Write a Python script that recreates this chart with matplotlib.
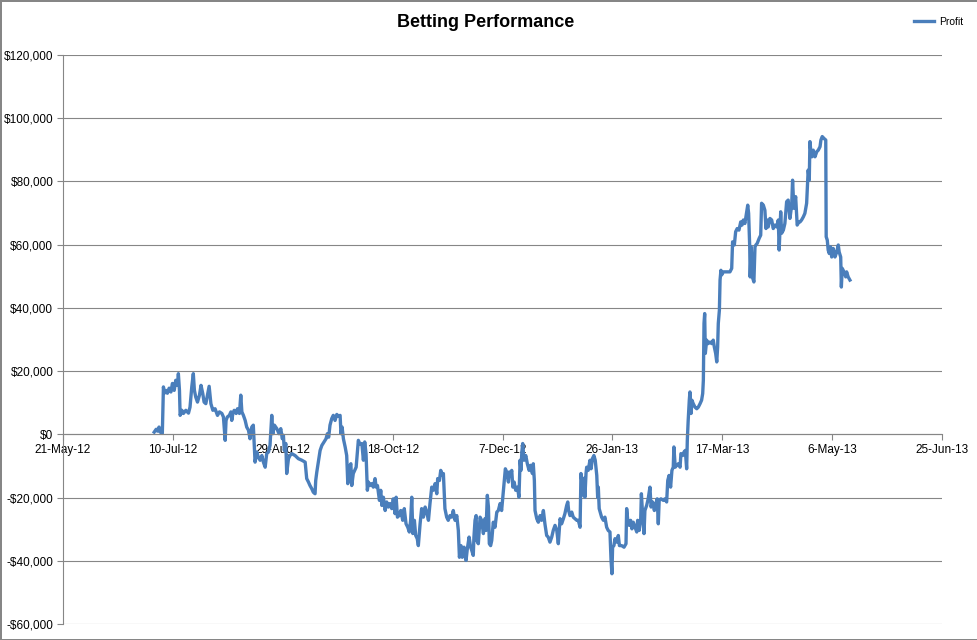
"""
Betting performance: cumulative profit over time (Excel-style line chart).
"""
import datetime as dt

import matplotlib
matplotlib.use("Agg")
import matplotlib.dates as mdates
import matplotlib.pyplot as plt
from matplotlib.ticker import FuncFormatter, MultipleLocator

# ---------------------------------------------------------------------------
# DATA
# ---------------------------------------------------------------------------
START_DATE = dt.datetime(2012, 7, 1)

# days elapsed since START_DATE
days = [
    0.5, 1.4, 2.0, 2.7, 3.2, 3.8, 4.2, 4.7, 5.1, 5.8, 6.5, 7.3, 8.1, 8.8, 9.6,
    10.3, 11.1, 11.5, 12.0, 12.3, 13.1, 13.8, 14.9, 16.1, 16.8, 17.6, 18.3,
    18.8, 19.4, 20.2, 21.1, 21.8, 22.6, 23.2, 24.0, 24.9, 25.5, 26.3, 27.2,
    28.2, 29.3, 30.2, 31.3, 32.0, 32.8, 33.2, 33.8, 34.7, 35.4, 35.8, 36.3,
    36.9, 37.8, 38.4, 39.3, 39.9, 40.4, 41.1, 41.9, 42.6, 43.4, 44.1, 44.9,
    45.6, 46.4, 47.2, 47.9, 48.7, 49.5, 50.2, 51.0, 51.7, 52.5, 53.2, 54.0,
    54.5, 55.2, 56.3, 57.3, 58.1, 58.8, 59.3, 59.7, 60.4, 60.8, 61.6, 62.3,
    63.1, 64.6, 66.1, 67.7, 69.2, 69.9, 70.7, 71.4, 72.2, 72.9, 73.7, 74.0,
    74.5, 75.2, 76.0, 76.8, 77.8, 78.7, 79.3, 79.9, 80.5, 81.3, 82.0, 82.8,
    83.6, 84.3, 85.1, 85.5, 86.0, 86.6, 87.4, 88.1, 88.6, 89.2, 90.0, 90.4,
    91.1, 92.4, 93.4, 94.2, 95.0, 95.7, 96.3, 96.9, 97.5, 98.0, 98.7, 99.5,
    100.2, 101.0, 101.5, 102.1, 103.0, 103.6, 104.1, 104.8, 105.6, 106.3,
    107.1, 107.8, 108.6, 109.3, 110.1, 110.6, 111.2, 111.9, 112.7, 113.6,
    114.3, 115.1, 115.9, 116.6, 117.2, 117.7, 118.2, 118.9, 119.5, 120.2,
    120.7, 121.5, 122.2, 123.0, 123.8, 124.5, 125.3, 126.0, 126.8, 127.5,
    128.3, 129.1, 129.5, 130.3, 130.9, 131.6, 132.1, 132.8, 133.6, 134.3,
    135.1, 135.9, 136.6, 137.4, 138.2, 138.9, 139.4, 140.1, 140.7, 141.5,
    142.4, 143.0, 143.8, 144.5, 145.0, 145.7, 146.0, 146.5, 147.0, 147.3,
    148.0, 148.8, 149.5, 150.3, 151.0, 151.5, 152.1, 152.6, 153.0, 153.6,
    154.1, 154.8, 155.6, 156.4, 157.1, 157.9, 158.6, 159.4, 159.8, 160.3,
    160.9, 161.7, 162.1, 162.7, 163.2, 163.7, 164.3, 165.0, 165.8, 166.5,
    167.0, 167.4, 167.8, 168.2, 168.8, 169.6, 170.3, 171.1, 171.8, 172.6,
    173.0, 173.5, 173.8, 174.6, 175.3, 176.1, 176.8, 177.6, 178.3, 179.1,
    179.8, 180.6, 181.4, 182.1, 182.9, 183.7, 184.4, 185.2, 185.9, 186.7,
    187.4, 188.2, 188.7, 189.1, 189.7, 190.5, 191.2, 192.0, 192.8, 193.5,
    194.3, 194.7, 195.8, 196.1, 196.5, 197.0, 197.3, 198.0, 198.8, 199.3,
    199.9, 200.6, 201.2, 201.9, 202.3, 202.6, 203.0, 204.1, 204.9, 205.6,
    206.4, 207.1, 207.9, 208.4, 208.8, 209.1, 209.7, 210.2, 211.0, 211.7,
    212.2, 213.2, 214.3, 215.2, 215.5, 216.0, 216.7, 217.3, 217.9, 218.5,
    219.3, 220.1, 220.5, 221.2, 221.9, 222.2, 222.6, 223.4, 223.8, 224.6,
    225.3, 226.1, 226.6, 227.3, 228.1, 228.8, 229.4, 229.9, 230.3, 231.1,
    232.2, 232.9, 233.7, 234.2, 234.8, 235.5, 236.1, 236.7, 237.0, 237.6,
    238.3, 239.0, 239.8, 240.2, 241.0, 241.6, 242.2, 242.8, 243.1, 243.5,
    244.0, 244.3, 244.8, 245.2, 245.8, 246.6, 247.4, 248.1, 248.9, 249.6,
    250.1, 250.4, 250.7, 251.0, 251.3, 251.9, 252.6, 253.4, 254.2, 254.9,
    255.4, 256.0, 256.5, 256.9, 257.2, 257.7, 258.0, 258.4, 258.7, 259.5,
    261.0, 262.5, 263.3, 263.7, 264.5, 265.1, 265.8, 266.6, 267.4, 268.0,
    268.6, 269.3, 270.1, 270.6, 271.0, 271.5, 271.7, 272.2, 272.7, 273.4,
    273.9, 274.3, 274.9, 275.8, 276.5, 276.9, 277.7, 278.4, 278.9, 279.5,
    279.9, 280.7, 281.5, 282.2, 283.0, 283.8, 284.5, 284.9, 285.6, 286.0,
    286.8, 287.5, 288.3, 289.0, 289.8, 290.6, 291.0, 291.6, 292.4, 293.1,
    293.9, 294.4, 295.1, 295.9, 296.6, 297.4, 297.7, 298.1, 298.6, 298.9,
    299.4, 299.8, 300.4, 301.2, 302.0, 302.7, 303.5, 303.9, 304.5, 305.3,
    306.1, 306.3, 306.8, 307.2, 307.7, 308.3, 308.8, 309.5, 310.3, 311.1,
    311.8, 312.2, 312.9, 313.2, 313.6, 314.4, 315.2, 315.6, 316.3, 317.1,
]

# cumulative profit, thousands of dollars
profit_k = [
    0.7, 1.6, 1.0, 2.3, 0.7, 1.3, 0.3, 15.0, 13.0, 13.9, 13.0, 14.6, 13.4, 16.1, 13.9,
    17.1, 15.5, 19.2, 13.9, 6.0, 7.6, 6.6, 7.6, 6.7, 8.6, 15.0, 19.2,
    13.9, 11.8, 10.2, 12.4, 15.5, 12.9, 10.2, 9.7, 12.9, 15.2, 9.7, 7.6,
    8.1, 6.0, 7.1, 6.6, 5.5, -1.9, 4.4, 5.5, 6.0, 7.1, 4.4, 6.6,
    7.6, 6.6, 8.1, 6.6, 12.4, 7.1, 6.0, 4.4, 2.3, 1.3, -1.4, 2.3,
    2.9, -8.8, -5.6, -7.2, -8.2, -6.7, -8.8, -10.4, -6.1, -5.6, -3.5, 6.0,
    0.2, 2.9, 1.8, 0.2, 1.8, -1.4, -0.3, -5.1, -2.9, -12.4, -7.7, -6.7,
    -6.1, -6.7, -7.7, -8.2, -8.8, -14.0, -15.1, -16.2, -17.2, -18.3, -18.8, -14.6,
    -11.9, -8.8, -5.1, -3.5, -2.4, -1.4, 0.2, -0.9, 2.9, 5.0, 6.0, 4.4,
    6.3, 5.7, 6.0, 0.2, 2.3, -1.4, -4.0, -6.7, -15.6, -10.4, -9.3, -16.2,
    -12.4, -10.4, -1.9, -3.2, -2.9, -8.2, -2.4, -6.1, -17.7, -15.1, -16.2, -15.6,
    -16.7, -14.0, -16.7, -16.2, -20.9, -17.7, -22.5, -19.9, -24.1, -21.4,
    -23.0, -21.9, -23.5, -20.4, -25.1, -19.9, -26.2, -25.7, -24.1, -27.2,
    -23.5, -28.3, -29.4, -30.9, -27.2, -19.9, -31.4, -27.2, -32.0, -33.0,
    -35.2, -28.3, -23.5, -26.2, -23.0, -24.6, -27.2, -21.9, -16.7, -17.7,
    -15.6, -18.8, -14.0, -14.6, -11.4, -13.0, -12.4, -23.5, -26.2, -27.2,
    -25.7, -26.2, -24.1, -27.2, -25.7, -30.4, -38.9, -35.2, -38.9, -35.7,
    -39.9, -36.2, -32.5, -35.7, -36.7, -38.3, -32.5, -27.2, -25.7, -33.6,
    -34.6, -26.2, -27.2, -31.4, -26.7, -30.4, -19.3, -23.0, -34.6, -35.2,
    -33.6, -27.8, -29.4, -24.6, -24.1, -21.9, -24.1, -17.7, -14.6, -10.9,
    -11.9, -15.1, -11.9, -13.0, -11.4, -16.7, -15.1, -17.7, -16.7, -19.9,
    -8.2, -11.4, -5.6, -2.9, -8.2, -6.7, -9.3, -11.4, -9.8, -12.4,
    -9.3, -14.6, -24.1, -26.7, -27.8, -25.7, -27.2, -24.1, -28.3, -32.0,
    -32.5, -34.1, -32.5, -30.4, -28.8, -30.4, -34.6, -26.7, -28.3, -26.7,
    -25.1, -22.5, -21.4, -24.1, -25.7, -24.6, -26.2, -26.7, -27.2, -27.2,
    -29.4, -12.4, -19.3, -13.9, -19.9, -12.4, -10.4, -11.4, -8.2, -10.9,
    -7.7, -6.7, -8.2, -13.0, -19.9, -16.7, -23.5, -26.2, -27.2, -26.2,
    -29.4, -30.4, -30.9, -39.9, -44.1, -35.7, -35.2, -33.0, -34.1, -32.0,
    -35.2, -35.2, -35.7, -34.6, -23.5, -27.2, -28.8, -27.2, -29.9, -27.8,
    -29.4, -30.9, -27.2, -30.4, -26.7, -18.8, -23.5, -31.4, -24.1, -22.5,
    -20.4, -16.7, -23.0, -21.4, -24.1, -21.9, -20.4, -28.3, -20.9, -20.4,
    -20.9, -20.4, -21.4, -14.6, -13.0, -16.7, -11.4, -10.4, -4.0, -10.4,
    -9.8, -9.3, -10.4, -6.1, -6.7, -5.6, -5.1, -10.9, -1.9, 4.4,
    10.8, 13.4, 6.6, 10.8, 9.7, 8.6, 8.1, 8.6, 9.7, 10.8,
    12.9, 17.1, 35.1, 38.2, 25.6, 29.8, 28.7, 29.2, 28.7, 29.8,
    27.6, 25.6, 22.9, 27.6, 35.1, 39.3, 48.8, 51.9, 50.4, 51.4,
    51.4, 51.4, 52.5, 60.9, 59.9, 64.1, 65.1, 64.6, 67.2, 66.2,
    67.8, 66.7, 70.3, 72.5, 69.9, 59.3, 49.8, 59.3, 49.8, 48.2,
    59.3, 59.9, 60.4, 62.0, 63.0, 73.1, 72.5, 70.9, 65.1, 67.8,
    65.6, 68.3, 67.8, 65.1, 66.2, 65.6, 67.8, 58.3, 70.4, 63.6,
    64.6, 66.7, 73.6, 74.1, 68.3, 72.5, 80.4, 71.5, 75.2, 66.2,
    67.2, 67.2, 67.8, 68.8, 69.9, 73.1, 77.3, 83.6, 80.4, 92.6,
    88.9, 87.8, 89.9, 87.8, 89.4, 89.9, 91.0, 93.1, 94.2, 93.6,
    93.1, 62.5, 61.4, 58.3, 57.2, 59.3, 56.1, 58.8, 56.1, 57.7,
    59.9, 57.7, 56.1, 46.6, 52.5, 51.4, 49.8, 51.4, 49.8, 48.8,
]

# x-axis tick dates (every 50 days) and y-axis range
tick_dates = ["2012-05-21", "2012-07-10", "2012-08-29", "2012-10-18", "2012-12-07",
              "2013-01-26", "2013-03-17", "2013-05-06", "2013-06-25"]
y_min, y_max, y_step = -60000, 120000, 20000

TITLE = "Betting Performance"
SERIES_NAME = "Profit"

LINE_COLOR = "#4a7ebb"
GRID_COLOR = "#868686"
FONT = "Liberation Sans"

# ---------------------------------------------------------------------------
# PLOT
# ---------------------------------------------------------------------------
plt.rcParams["font.family"] = [FONT, "DejaVu Sans"]

dates = [START_DATE + dt.timedelta(days=d) for d in days]
profit = [p * 1000 for p in profit_k]
ticks = [dt.datetime.strptime(s, "%Y-%m-%d") for s in tick_dates]

fig = plt.figure(figsize=(9.78, 6.4), dpi=100)
fig.patch.set_edgecolor(GRID_COLOR)
fig.patch.set_linewidth(0.8)
ax = fig.add_axes([63 / 978, 16 / 640, 879 / 978, 569 / 640])

ax.plot(dates, profit, color=LINE_COLOR, lw=2.4, solid_joinstyle="round", label=SERIES_NAME)

ax.set_xlim(ticks[0], ticks[-1])
ax.set_ylim(y_min, y_max)
ax.set_xticks(ticks)
ax.xaxis.set_major_formatter(
    FuncFormatter(lambda v, _: (lambda d: f"{d.day}-{d:%b-%y}")(mdates.num2date(v))))
ax.yaxis.set_major_locator(MultipleLocator(y_step))
ax.yaxis.set_major_formatter(
    FuncFormatter(lambda v, _: f"{'-' if v < 0 else ''}${abs(v):,.0f}"))

# horizontal gridlines only, x axis crosses at zero
ax.grid(axis="y", color=GRID_COLOR, lw=0.8)
ax.set_axisbelow(True)
ax.spines["top"].set_visible(False)
ax.spines["right"].set_visible(False)
ax.spines["bottom"].set_position(("data", 0))
for side in ("left", "bottom"):
    ax.spines[side].set_color(GRID_COLOR)
    ax.spines[side].set_linewidth(0.8)
ax.tick_params(axis="both", direction="out", length=4, width=0.8, color=GRID_COLOR,
               labelsize=8.5, labelcolor="black")
ax.tick_params(axis="x", pad=3)
ax.tick_params(axis="y", pad=3)

fig.text(0.497, 0.965, TITLE, ha="center", va="center", fontsize=13, fontweight="bold")
fig.legend(loc="upper right", bbox_to_anchor=(0.995, 0.988), frameon=False,
           fontsize=7.5, handlelength=2.0, handletextpad=0.5)

fig.savefig("out.png", dpi=100, edgecolor=fig.get_edgecolor())
